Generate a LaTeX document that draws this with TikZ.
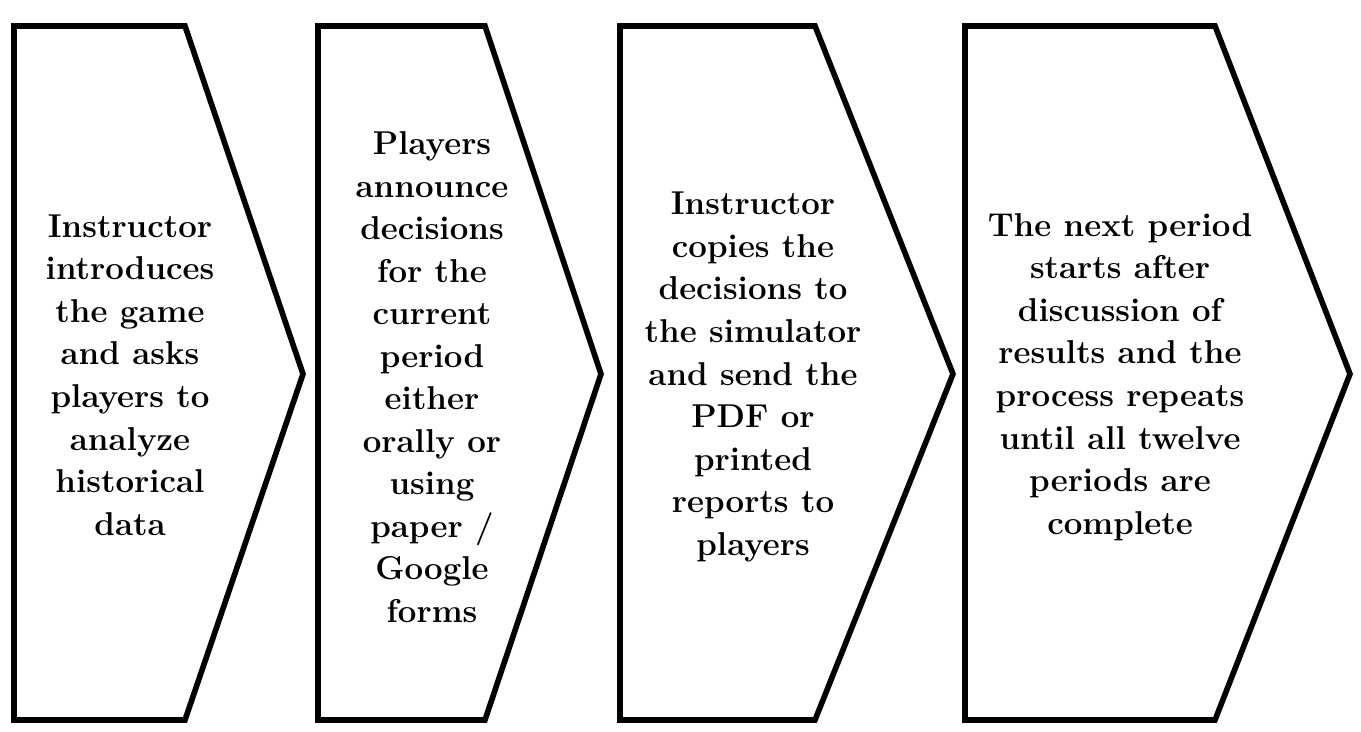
\documentclass[tikz,border=0pt]{standalone}
\begin{document}
\begin{tikzpicture}[x=0.02cm,y=-0.02cm,
  arrowshape/.style={draw=black,line width=3.2pt,line join=miter,fill=white},
  txt/.style={align=center,font=\fontsize{18.8}{24.2}\selectfont\bfseries,inner sep=0pt}]
\useasboundingbox (0,0) rectangle (1361,732);
\draw[arrowshape] (14,26) -- (185,26) -- (303,374) -- (185,720) -- (14,720) -- cycle;
\draw[arrowshape] (318,26) -- (485,26) -- (601,374) -- (485,720) -- (318,720) -- cycle;
\draw[arrowshape] (620,26) -- (815,26) -- (953,374) -- (815,720) -- (620,720) -- cycle;
\draw[arrowshape] (965,26) -- (1215,26) -- (1350,374) -- (1215,720) -- (965,720) -- cycle;
\node[txt] (t1) at (130,375) {Instructor\\introduces\\the game\\and asks\\players to\\analyze\\historical\\data};
\node[txt] (t2) at (432,377) {Players\\announce\\decisions\\for the\\current\\period\\either\\orally or\\using\\paper /\\Google\\forms};
\node[txt] (t3) at (753,377) {Instructor\\copies the\\decisions to\\the simulator\\and send the\\PDF or\\printed\\reports to\\players};
\node[txt] (t4) at (1120,377) {The next period\\starts after\\discussion of\\results and the\\process repeats\\until all twelve\\periods are\\complete};
\end{tikzpicture}
\end{document}
